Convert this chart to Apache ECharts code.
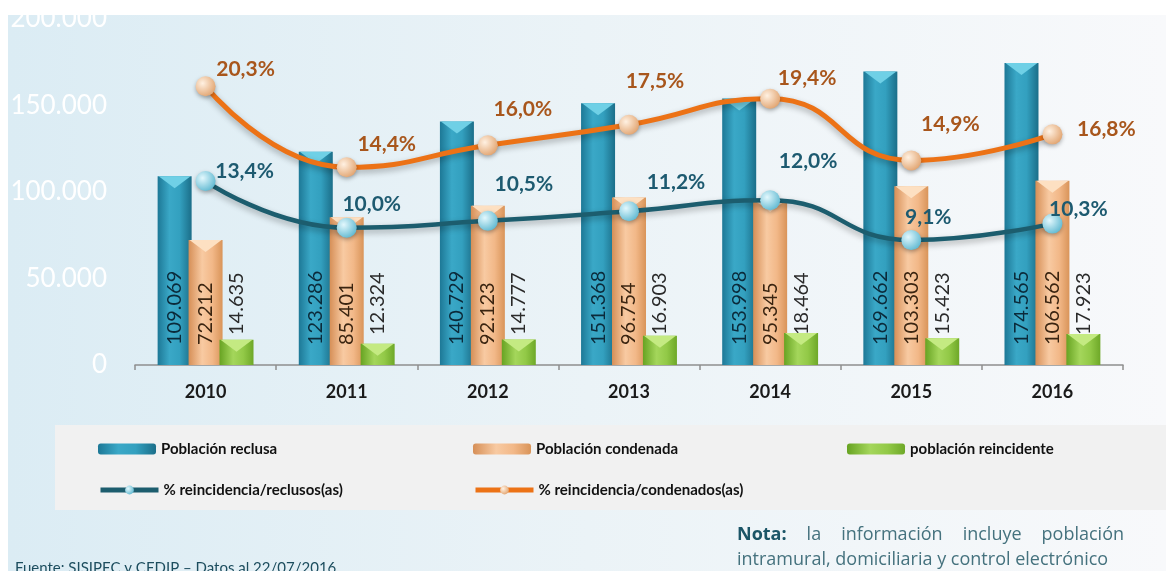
<!DOCTYPE html>
<html>
<head>
<meta charset="utf-8">
<script src="https://cdn.jsdelivr.net/npm/echarts@6/dist/echarts.min.js"></script>
<style>
  html, body { margin: 0; padding: 0; background: #ffffff; }
  #chart { width: 1166px; height: 571px; }
</style>
</head>
<body>
<div id="chart"></div>
<script>
// Años y series de población (personas) y porcentajes de reincidencia
const years = ['2010', '2011', '2012', '2013', '2014', '2015', '2016'];
const poblacionReclusa = [109069, 123286, 140729, 151368, 153998, 169662, 174565];
const poblacionCondenada = [72212, 85401, 92123, 96754, 95345, 103303, 106562];
const poblacionReincidente = [14635, 12324, 14777, 16903, 18464, 15423, 17923];
const pctReclusos = [13.4, 10.0, 10.5, 11.2, 12.0, 9.1, 10.3];
const pctCondenados = [20.3, 14.4, 16.0, 17.5, 19.4, 14.9, 16.8];

const nombres = {
  reclusa: 'Población reclusa',
  condenada: 'Población condenada',
  reincidente: 'población reincidente',
  pctReclusos: '% reincidencia/reclusos(as)',
  pctCondenados: '% reincidencia/condenados(as)'
};

// Desplazamiento de cada etiqueta de porcentaje respecto a su marcador
const offsetsReclusos = [[39, -10], [25, -23], [36, -37], [47, -29], [38, -39], [17, -23], [26, -14]];
const offsetsCondenados = [[40, -17], [40, -23], [35, -36], [26, -43], [37, -20], [39, -36], [54, -5]];

const fmtMiles = v => String(v).replace(/\B(?=(\d{3})+(?!\d))/g, '.');
const fmtPct = v => v.toFixed(1).replace('.', ',') + '%';

const G = echarts.graphic;
const hGrad = stops => new G.LinearGradient(0, 0, 1, 0, stops.map(c => ({ offset: c[0], color: c[1] })));

const colAzul = hGrad([[0, '#1d7896'], [0.35, '#3aa8c7'], [0.65, '#33a0bf'], [1, '#1b6e89']]);
const colNaranja = hGrad([[0, '#d68f57'], [0.4, '#f8caa2'], [0.7, '#f2b888'], [1, '#d99459']]);
const colVerde = hGrad([[0, '#67a322'], [0.4, '#a4d65b'], [0.7, '#92c947'], [1, '#6ea828']]);

const BAR_W = 34;
const BAR_GAP = '-9%';
const FONT = 'Lato, "Open Sans", sans-serif';
const NOTE_FONT = '"Open Sans", Lato, sans-serif';

function barSeries(name, data, color, labelColor, labelDist) {
  return {
    name, type: 'bar', data, barWidth: BAR_W, barGap: BAR_GAP, z: 2,
    itemStyle: { color },
    label: {
      show: true, position: 'insideBottom', rotate: 90, align: 'left', verticalAlign: 'middle',
      distance: labelDist, formatter: p => fmtMiles(p.value),
      fontFamily: FONT, fontSize: 20, color: labelColor
    }
  };
}

// Biseles triangulares en el extremo superior de cada barra
function capSeries(data, color) {
  return {
    type: 'pictorialBar', data, barWidth: BAR_W, barGap: BAR_GAP, silent: true, z: 3,
    symbol: 'path://M0,0L10,0L5,4Z', symbolSize: [BAR_W - 2, 12], symbolPosition: 'end',
    itemStyle: { color }, tooltip: { show: false }, legendHoverLink: false
  };
}

function lineSeries(name, values, offsets, lineColor, markerInner, markerOuter, labelColor, width) {
  return {
    name, type: 'line', yAxisIndex: 1, smooth: true, z: 6,
    data: values.map((v, i) => ({ value: v, label: { offset: offsets[i] } })),
    symbol: 'circle', symbolSize: 20,
    lineStyle: { color: lineColor, width, shadowColor: 'rgba(0,0,0,0.3)', shadowBlur: 6, shadowOffsetY: 3 },
    itemStyle: {
      color: new G.RadialGradient(0.35, 0.35, 0.75, [
        { offset: 0, color: markerInner }, { offset: 1, color: markerOuter }
      ]),
      shadowColor: 'rgba(0,0,0,0.3)', shadowBlur: 4, shadowOffsetY: 2
    },
    label: {
      show: true, position: 'inside', formatter: p => fmtPct(p.value),
      fontFamily: FONT, fontSize: 21, fontWeight: 'bold', color: labelColor
    }
  };
}

function legendItem(name, left, top, lineWidth) {
  const item = {
    data: [name], left, top, padding: 0, itemWidth: 58, itemHeight: 11, selectedMode: false,
    textStyle: { fontFamily: FONT, fontSize: 15, fontWeight: 'bold', color: '#111', lineHeight: 16 }
  };
  if (lineWidth) item.lineStyle = { width: lineWidth, shadowBlur: 0, shadowOffsetY: 0 };
  return item;
}

// Texto justificado de la nota: reparte las palabras entre dos márgenes
const measureCtx = document.createElement('canvas').getContext('2d');
function justifiedWords(words, x0, x1, y, fontSize) {
  const widths = words.map(w => {
    measureCtx.font = (w.bold ? 'bold ' : '') + fontSize + 'px ' + NOTE_FONT;
    return measureCtx.measureText(w.text).width;
  });
  const gap = (x1 - x0 - widths.reduce((a, b) => a + b, 0)) / (words.length - 1);
  let x = x0;
  return words.map((w, i) => {
    const el = {
      type: 'text', x, y,
      style: { text: w.text, fontFamily: NOTE_FONT, fontSize, fontWeight: w.bold ? 'bold' : 'normal',
               fill: w.bold ? '#1b5567' : '#45727e', verticalAlign: 'middle' }
    };
    x += widths[i] + gap;
    return el;
  });
}

const chart = echarts.init(document.getElementById('chart'), null, { renderer: 'canvas' });

chart.setOption({
  animation: false,
  textStyle: { fontFamily: FONT },
  graphic: [
    {
      type: 'rect', z: -10, shape: { x: 8, y: 15, width: 1158, height: 556 },
      style: { fill: hGrad([[0, '#dbecf4'], [0.5, '#ebf3f7'], [1, '#f8f9fb']]) }
    },
    {
      type: 'rect', z: -9, shape: { x: 55, y: 425, width: 1111, height: 85 },
      style: { fill: '#f1f1f1' }
    },
    {
      type: 'text', x: 15, y: 561,
      style: { text: 'Fuente: SISIPEC y CEDIP – Datos al 22/07/2016', fontFamily: FONT, fontSize: 15,
               fill: '#1c4d5e', verticalAlign: 'top' }
    },
    ...justifiedWords([
      { text: 'Nota:', bold: true }, { text: 'la' }, { text: 'información' }, { text: 'incluye' }, { text: 'población' }
    ], 737, 1124, 535, 18),
    {
      type: 'text', x: 737, y: 560,
      style: { text: 'intramural, domiciliaria y control electrónico', fontFamily: NOTE_FONT, fontSize: 18,
               fill: '#45727e', verticalAlign: 'middle' }
    }
  ],
  legend: [
    legendItem(nombres.reclusa, 98, 441),
    legendItem(nombres.condenada, 473, 441),
    legendItem(nombres.reincidente, 847, 441),
    legendItem(nombres.pctReclusos, 98, 482, 5),
    legendItem(nombres.pctCondenados, 473, 482, 5)
  ],
  grid: { left: 135, right: 43, top: 19, bottom: 206 },
  xAxis: {
    type: 'category', data: years,
    axisLine: { lineStyle: { color: '#8e8e8e', width: 1.5 } },
    axisTick: { show: true, length: 5, lineStyle: { color: '#8e8e8e', width: 1.5 } },
    axisLabel: { margin: 18, fontFamily: FONT, fontSize: 18, fontWeight: 'bold', color: '#1a1a1a' }
  },
  yAxis: [
    {
      type: 'value', min: 0, max: 200000, interval: 50000,
      axisLine: { show: false }, axisTick: { show: false }, splitLine: { show: false },
      axisLabel: { margin: 28, fontFamily: FONT, fontSize: 26, color: '#ffffff', formatter: v => fmtMiles(v) }
    },
    {
      type: 'value', min: 0, max: 25.2, show: false, splitLine: { show: false }
    }
  ],
  series: [
    barSeries(nombres.reclusa, poblacionReclusa, colAzul, '#0b2a3a', 20),
    barSeries(nombres.condenada, poblacionCondenada, colNaranja, '#3a2410', 20),
    barSeries(nombres.reincidente, poblacionReincidente, colVerde, '#2a2a2a', 30),
    capSeries(poblacionReclusa, '#6fd0e6'),
    capSeries(poblacionCondenada, '#fde0c2'),
    capSeries(poblacionReincidente, '#c4ea82'),
    lineSeries(nombres.pctReclusos, pctReclusos, offsetsReclusos, '#1c5d6e', '#e3f8fd', '#5ab6cf', '#1d5a70', 4.5),
    lineSeries(nombres.pctCondenados, pctCondenados, offsetsCondenados, '#ec7216', '#fff1e2', '#e0a06a', '#a8561c', 5)
  ]
});
</script>
</body>
</html>
